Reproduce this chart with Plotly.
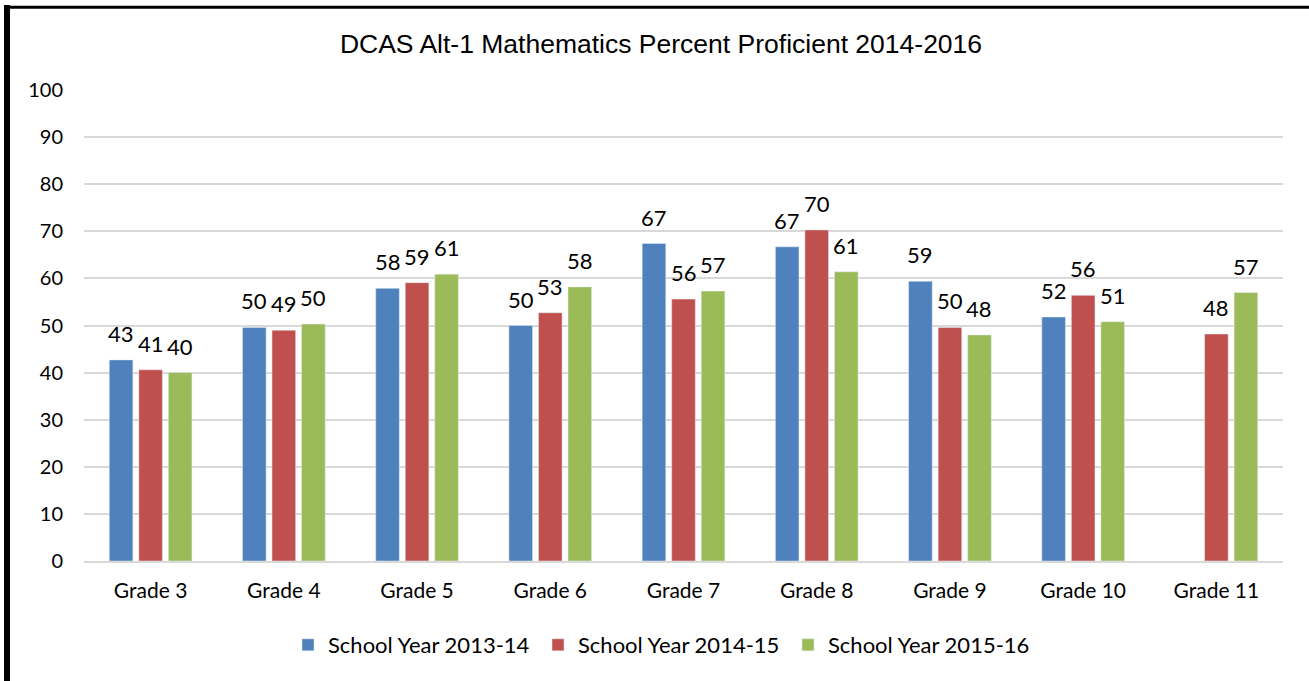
import plotly.graph_objects as go

# Grades on the x axis
grades = ["Grade 3", "Grade 4", "Grade 5", "Grade 6", "Grade 7",
          "Grade 8", "Grade 9", "Grade 10", "Grade 11"]

# Percent proficient per school year
sy_2013_14 = [42.7, 49.6, 57.9, 50.0, 67.4, 66.7, 59.4, 51.8, None]
sy_2014_15 = [40.6, 49.0, 59.1, 52.7, 55.6, 70.3, 49.6, 56.4, 48.2]
sy_2015_16 = [40.0, 50.3, 60.9, 58.2, 57.3, 61.4, 48.0, 50.8, 57.0]

series = [
    ("School Year 2013-14", sy_2013_14, "#4f81bd"),
    ("School Year 2014-15", sy_2014_15, "#c0504d"),
    ("School Year 2015-16", sy_2015_16, "#9bbb59"),
]

font_family = "Lato, 'Open Sans', sans-serif"

# plot area in pixels
L, R, T, B = 84, 26, 90, 120
W, H = 1309, 681
pw, ph = W - L - R, H - T - B
bargap = 0.335
slot = pw / len(grades) * (1 - bargap) / len(series)

fig = go.Figure()
annotations = []
for i, (name, values, color) in enumerate(series):
    fig.add_trace(go.Bar(
        x=grades,
        y=values,
        name=name,
        marker_color=color,
    ))
    # value labels sit a bit higher above the bars than plotly's "outside" text
    for g, v in zip(grades, values):
        if v is None:
            continue
        annotations.append(dict(
            x=g, y=v, text=f"{v:.0f}",
            showarrow=False, yanchor="bottom",
            xshift=(i - 1) * slot, yshift=11,
            font=dict(size=22, color="#000000", family=font_family),
        ))

fig.update_layout(
    width=W,
    height=H,
    margin=dict(l=L, r=R, t=T, b=B),
    paper_bgcolor="white",
    plot_bgcolor="white",
    barmode="group",
    bargap=bargap,
    bargroupgap=0.2,
    title=dict(
        text="DCAS Alt-1 Mathematics Percent Proficient 2014-2016",
        x=(661 - L) / pw * pw / W + L / W,
        xanchor="center",
        y=1 - 44 / H,
        yanchor="middle",
        font=dict(family="Liberation Sans, Arial, sans-serif", size=26.5, color="#000000"),
    ),
    font=dict(family=font_family, size=20, color="#000000"),
    legend=dict(
        orientation="h",
        x=(663 - L) / pw,
        xanchor="center",
        y=-(645 - (H - B)) / ph,
        yanchor="middle",
        font=dict(size=22),
        itemwidth=30,
        entrywidth=205,
        traceorder="normal",
    ),
    xaxis=dict(
        showgrid=False,
        showline=True,
        linecolor="#d9d9d9",
        linewidth=2,
        ticks="",
        ticklabelstandoff=10,
        tickfont=dict(size=21),
    ),
    yaxis=dict(
        range=[0, 100],
        dtick=10,
        showgrid=True,
        gridcolor="#d9d9d9",
        gridwidth=2,
        zeroline=False,
        ticks="",
        ticklabelstandoff=20,
        tickfont=dict(size=20),
    ),
    annotations=annotations,
    shapes=[
        # outer border (left and top visible)
        dict(type="line", xref="paper", yref="paper",
             x0=(7 - L) / pw, x1=(7 - L) / pw, y0=-B / ph, y1=1 + (T - 5) / ph,
             line=dict(color="black", width=6)),
        dict(type="line", xref="paper", yref="paper",
             x0=(4 - L) / pw, x1=1 + R / pw, y0=1 + (T - 7.3) / ph, y1=1 + (T - 7.3) / ph,
             line=dict(color="black", width=3)),
    ],
)

fig.write_html(
    "out.html",
    config={"displayModeBar": False},
    post_script="document.body.style.margin='0';document.body.style.overflow='hidden';",
)
